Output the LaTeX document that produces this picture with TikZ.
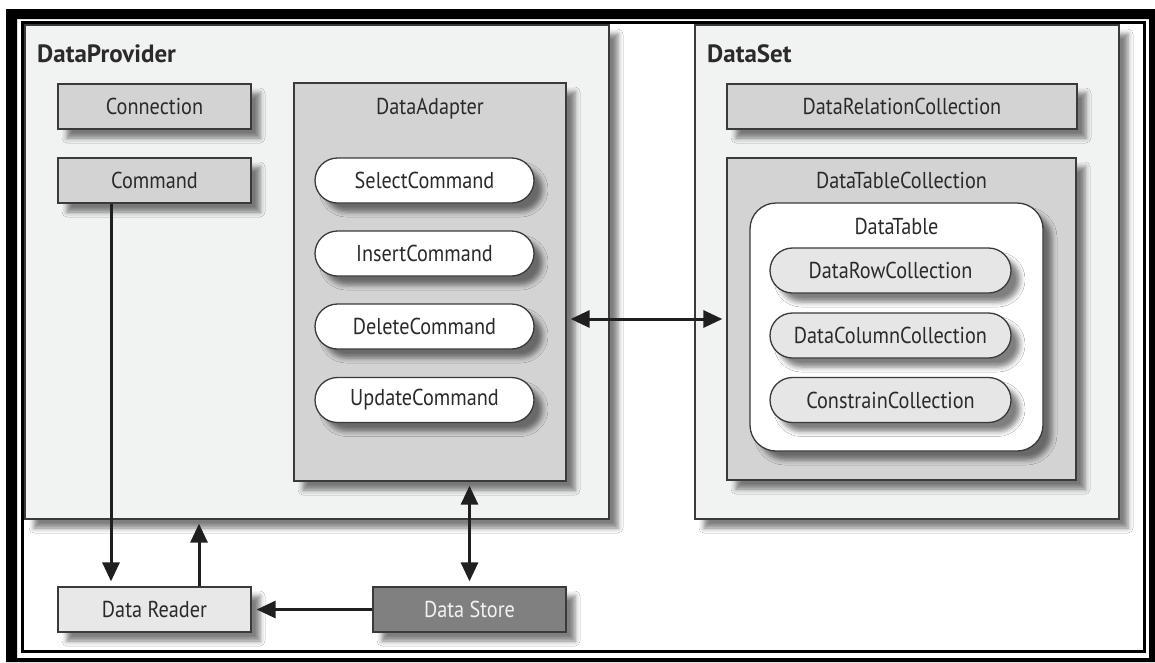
\documentclass[tikz,border=0pt]{standalone}
\usepackage{fontspec}
\setmainfont[FakeStretch=0.88]{PT Sans}
\newfontfamily\titlefont[FakeStretch=1.0]{PT Sans}
\usetikzlibrary{arrows.meta,shadows.blur}
\definecolor{outerbg}{HTML}{F1F2F2}
\definecolor{midgray}{HTML}{D3D3D3}
\definecolor{pillgray}{HTML}{E6E6E6}
\definecolor{readergray}{HTML}{E8E8E8}
\definecolor{storegray}{HTML}{808080}
\definecolor{storetext}{HTML}{F2F2F2}
\definecolor{edgec}{HTML}{3A3A3A}
\definecolor{textc}{HTML}{2A2A2A}
\tikzset{
  shd/.style={blur shadow={shadow xshift=9pt, shadow yshift=-9pt, shadow blur radius=5pt, shadow opacity=50}},
  box/.style={draw=edgec, line width=1.3pt, inner sep=0pt, shd, text=textc,
              font=\fontsize{23}{23}\selectfont},
  outerbox/.style={box, fill=outerbg},
  graybox/.style={box, fill=midgray},
  whitepill/.style={box, fill=white, rounded corners=22.5pt, minimum width=219pt, minimum height=45pt},
  graypill/.style={box, fill=pillgray, rounded corners=22.5pt, minimum width=241pt, minimum height=45pt},
  tablebox/.style={box, fill=white, rounded corners=26pt},
  title/.style={anchor=base west, text=textc, inner sep=0pt, font=\titlefont\bfseries\fontsize{25}{25}\selectfont},
  boxlabel/.style={anchor=base, text=textc, inner sep=0pt, font=\fontsize{23}{23}\selectfont},
  arr/.style={line width=3pt, draw=black!88, -{Triangle[length=19pt,width=17pt]}},
  dbl/.style={line width=3pt, draw=black!88, {Triangle[length=19pt,width=17pt]}-{Triangle[length=19pt,width=17pt]}},
}
\begin{document}
\begin{tikzpicture}[x=1pt,y=-1pt]
\useasboundingbox (0,0) rectangle (1155,662);
\fill[white] (0,0) rectangle (1155,662);

% containers
\node[outerbox, minimum width=584pt, minimum height=494pt] (DP) at (317,272) {};
\node[outerbox, minimum width=424pt, minimum height=494pt] (DS) at (907,272) {};
\node[title] (DPt) at (37,62) {DataProvider};
\node[title] (DSt) at (707,62) {DataSet};

% DataProvider content
\node[graybox, minimum width=193pt, minimum height=45pt] (Conn) at (154.5,106.5) {Connection};
\node[graybox, minimum width=193pt, minimum height=45pt] (Cmd) at (154.5,180.5) {Command};
\node[graybox, minimum width=272pt, minimum height=398pt] (DA) at (430,282) {};
\node[boxlabel] (DAt) at (430,114) {DataAdapter};
\node[whitepill] (Sel) at (424.5,180.5) {SelectCommand};
\node[whitepill] (Ins) at (424.5,253.5) {InsertCommand};
\node[whitepill] (Del) at (424.5,326.5) {DeleteCommand};
\node[whitepill] (Upd) at (424.5,400) {UpdateCommand};

% DataSet content
\node[graybox, minimum width=350pt, minimum height=45pt] (DRC) at (902,106.5) {DataRelationCollection};
\node[graybox, minimum width=349pt, minimum height=322pt] (DTC) at (901.5,319) {};
\node[boxlabel] (DTCt) at (901.5,188) {DataTableCollection};
\node[tablebox, minimum width=293pt, minimum height=248pt] (DT) at (896.5,327) {};
\node[boxlabel] (DTt) at (896.5,234) {DataTable};
\node[graypill] (Row) at (890.5,270.5) {DataRowCollection};
\node[graypill] (Col) at (890.5,335.5) {DataColumnCollection};
\node[graypill] (Con) at (890.5,400) {ConstrainCollection};

% bottom boxes
\node[box, fill=readergray, minimum width=193pt, minimum height=45pt] (DR) at (154.5,609.5) {Data Reader};
\node[box, fill=storegray, text=storetext, minimum width=193pt, minimum height=45pt] (Store) at (469.5,609.5) {Data Store};

% connectors
\coordinate (downx) at (111,0);
\coordinate (upx) at (199,0);
\coordinate (midy) at (0,319);
\draw[arr, shorten >=5pt] (Cmd.south -| downx) -- (DR.north -| downx);
\draw[arr, shorten >=4pt] (DR.north -| upx) -- (DP.south -| upx);
\draw[dbl, shorten <=4pt, shorten >=5pt] (DA.south -| Store.north) -- (Store.north);
\draw[arr, shorten >=5pt] (Store.west) -- (DR.east);
\draw[dbl, shorten <=4pt, shorten >=4pt] (DA.east |- midy) -- (DTC.west |- midy);

% frame
\fill[black, even odd rule] (6,9) rectangle (1155,662) (17,19) rectangle (1149,658);
\draw[black, line width=3pt] (22,22.5) rectangle (1144.5,651.5);
\end{tikzpicture}
\end{document}
